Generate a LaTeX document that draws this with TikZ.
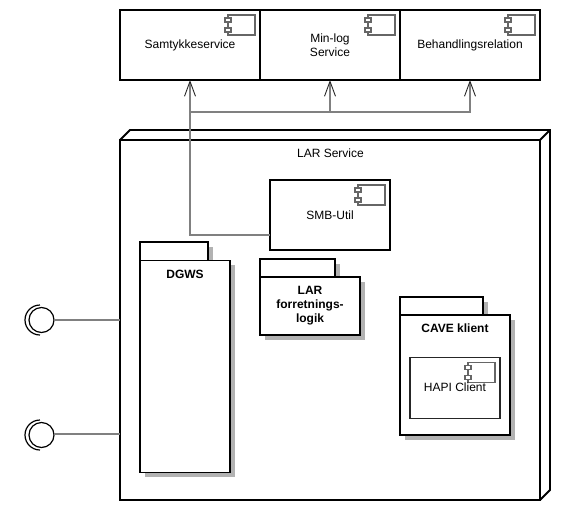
\documentclass[tikz,border=0pt]{standalone}
\usepackage{fontspec}
\setmainfont{Liberation Sans}
\usetikzlibrary{arrows.meta,calc,shadows}

\tikzset{
    boxline/.style={draw=black, line width=1.8pt, outer sep=0pt, inner sep=0pt, fill=white},
    svcbox/.style={boxline, align=center, minimum width=140, minimum height=70},
    pkgbox/.style={boxline, drop shadow={shadow xshift=4.5pt, shadow yshift=-4.5pt, opacity=.3, fill=black}},
    pkgtitle/.style={anchor=north, align=center, inner sep=0pt, font=\fontsize{12}{14}\selectfont\bfseries},
    wire/.style={draw=black!50, line width=1.5pt},
    wirearrow/.style={wire, -{Straight Barb[length=15pt, width=11pt, color=black!85, line width=.9pt]}},
    ifacering/.style={circle, draw=black, line width=1.2pt, minimum size=25, inner sep=0pt, outer sep=0pt},
    iconline/.style={draw=black!60, line width=1.1pt, fill=white},
}

% Component symbol in the top right corner of a box
\newcommand{\compicon}[1]{
    \draw[iconline] ($(#1.north east)+(-32,5)$) rectangle ($(#1.north east)+(-5,25)$);
    \draw[iconline] ($(#1.north east)+(-35,8)$) rectangle ($(#1.north east)+(-29,12)$);
    \draw[iconline] ($(#1.north east)+(-35,18)$) rectangle ($(#1.north east)+(-29,22)$);
}

\begin{document}
\begin{tikzpicture}[x=1pt, y=-1pt, font=\fontsize{12}{14}\selectfont]
    \useasboundingbox (0,0) rectangle (565,520);

    % Services on top
    \node[svcbox] (samtykke) at (190,45) {Samtykkeservice};
    \node[svcbox] (minlog) at (330,45) {Min-log\\Service};
    \node[svcbox] (behandling) at (470,45) {Behandlingsrelation};

    % LAR Service cube
    \node[boxline, minimum width=420, minimum height=360] (lar) at (330,320) {};
    \draw[line width=1.8pt, line join=miter] (lar.north west) -- ++(10,-10) -- ($(lar.north east)+(10,-10)$)
        -- ($(lar.south east)+(10,-10)$) -- (lar.south east);
    \draw[line width=1.8pt] (lar.north east) -- ++(10,-10);
    \node[anchor=north, inner sep=0pt] (lartitle) at (330.5,149) {LAR Service};

    % SMB-Util
    \node[svcbox, minimum width=120] (smbutil) at (330,215) {SMB-Util};
    \coordinate (smbout) at ($(smbutil.south west)+(0,-15)$);

    % Packages
    \node[pkgbox, minimum width=68, minimum height=22] (dgwstab) at (174,253) {};
    \node[pkgbox, minimum width=90, minimum height=212] (dgws) at (185,366.5) {};
    \node[pkgtitle] (dgwstitle) at (185,269.5) {DGWS};

    \node[pkgbox, minimum width=75, minimum height=22] (logiktab) at (297.5,270) {};
    \node[pkgbox, minimum width=100, minimum height=58] (logik) at (310,306) {};
    \node[pkgtitle] (logiktitle) at (310,286.5) {LAR\\forretnings-\\logik};

    \node[pkgbox, minimum width=83, minimum height=22] (cavetab) at (441.5,308) {};
    \node[pkgbox, minimum width=110, minimum height=120] (cave) at (455,375) {};
    \node[pkgtitle] (cavetitle) at (455,323.5) {CAVE klient};
    \node[svcbox, draw=black!85, minimum width=90, minimum height=61] (hapi) at (455,388) {};
    \foreach \n in {samtykke,minlog,behandling,smbutil,hapi} {
        \compicon{\n}
    }
    \node (hapitext) at (455,387) {HAPI Client};

    % Connectors up to the services
    \coordinate (hub) at (190,112);
    \draw[wirearrow] (smbout) -| (samtykke.south);
    \draw[wirearrow] (hub) -| (minlog.south);
    \draw[wirearrow] (hub) -| (behandling.south);

    % Provided interfaces on the left
    \node[ifacering] (ifaceA) at (41.5,320) {};
    \node[ifacering] (ifaceB) at (41.5,435) {};
    \draw[line width=1.2pt] (40,305) arc (-90:-270:15);
    \draw[line width=1.2pt] (40,420) arc (-90:-270:15);
    \draw[wire] (ifaceA) -- (ifaceA -| lar.west);
    \draw[wire] (ifaceB.east |- 0,434) -- (lar.west |- 0,434);
\end{tikzpicture}
\end{document}
